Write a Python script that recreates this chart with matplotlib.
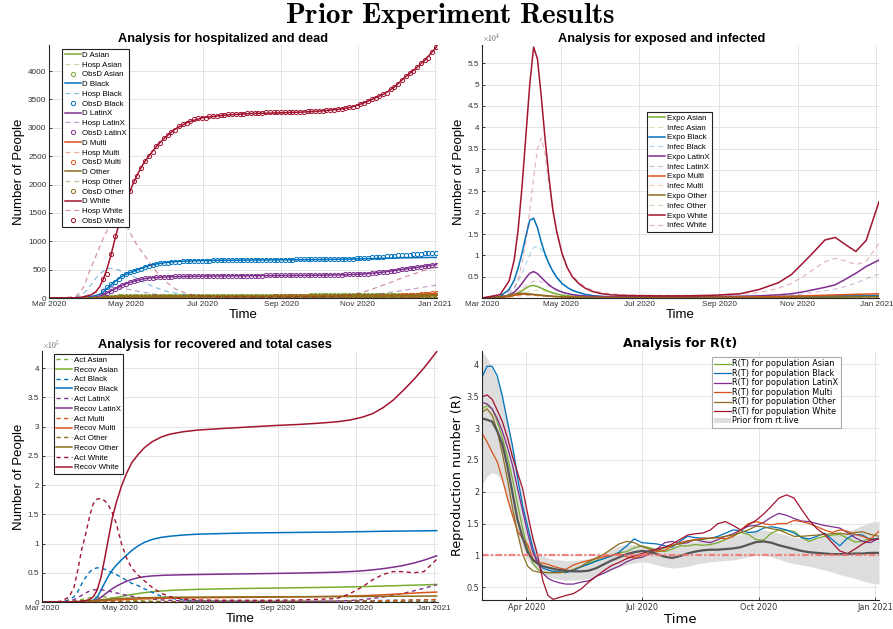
import numpy as np
import matplotlib
matplotlib.use('Agg')
import matplotlib.pyplot as plt
import matplotlib.dates as mdates
from matplotlib.patches import Patch
from matplotlib.ticker import MultipleLocator, FuncFormatter

plt.rcParams['font.family'] = 'Liberation Sans'
plt.rcParams['mathtext.fontset'] = 'cm'

start = np.datetime64('2020-03-01')
groups = ['Asian', 'Black', 'LatinX', 'Multi', 'Other', 'White']
colors = ['#77ac30', '#0072bd', '#7e2f8e', '#d95319', '#8c6d1f', '#a2142f']

# model output, days since 1 Mar 2020
days = [0, 14, 21, 25, 28, 31, 34, 37, 40, 43, 46, 49, 52, 55, 58, 62, 66, 70, 75, 80,
        86, 93, 100, 110, 122, 140, 160, 180, 200, 215, 230, 240, 250, 258, 266, 274, 282, 290, 298, 308]

# deaths (model)
d_asian = [0, 0, 0, 0, 0, 1, 1, 2, 5, 9, 14, 19, 23, 27, 30, 33, 35, 37, 38, 39,
           40, 40, 41, 41, 42, 42, 43, 43, 44, 44, 45, 45, 46, 47, 48, 49, 50, 52, 54, 56]
d_black = [0, 0, 2, 5, 10, 18, 30, 45, 65, 110, 170, 230, 290, 340, 385, 430, 465, 500, 540, 575,
           605, 628, 642, 653, 660, 666, 670, 672, 675, 678, 683, 687, 692, 696, 700, 704, 708, 711, 714, 716]
d_latinx = [0, 0, 1, 2, 4, 6, 10, 20, 35, 60, 90, 125, 160, 195, 225, 260, 290, 315, 340, 355,
            365, 372, 377, 382, 386, 390, 393, 396, 399, 402, 408, 414, 425, 440, 460, 485, 510, 535, 560, 590]
d_multi = [0, 0, 0, 0, 0, 0, 1, 1, 2, 3, 5, 6, 8, 9, 11, 12, 14, 15, 16, 17,
           18, 18, 19, 19, 20, 20, 21, 21, 22, 23, 24, 26, 28, 31, 36, 41, 47, 56, 68, 85]
d_other = [0, 0, 0, 0, 0, 1, 1, 2, 3, 5, 7, 9, 11, 13, 15, 16, 18, 19, 21, 22,
           23, 23, 24, 24, 25, 25, 26, 26, 27, 27, 28, 29, 30, 31, 32, 33, 34, 35, 37, 40]
d_white = [0, 0, 5, 12, 25, 40, 65, 110, 200, 340, 530, 760, 1030, 1280, 1500, 1760, 1990, 2180, 2380, 2530,
           2700, 2850, 2980, 3100, 3180, 3225, 3252, 3262, 3276, 3295, 3327, 3365, 3440, 3520, 3600, 3720, 3885, 4030, 4190, 4440]

# hospitalized (model)
h_asian = [0, 0, 2, 4, 8, 12, 18, 24, 30, 35, 40, 43, 45, 44, 42, 38, 35, 31, 26, 21,
           17, 13, 10, 7, 6, 5, 5, 5, 5, 5, 5, 6, 6, 7, 8, 9, 10, 10, 11, 12]
h_black = [0, 2, 20, 50, 100, 170, 260, 350, 420, 475, 515, 525, 515, 495, 465, 430, 390, 340, 280, 225,
           170, 120, 85, 50, 25, 15, 12, 12, 12, 13, 14, 16, 20, 24, 28, 32, 36, 40, 44, 48]
h_latinx = [0, 1, 8, 20, 35, 55, 80, 105, 130, 155, 172, 182, 185, 180, 170, 155, 140, 122, 100, 80,
            60, 42, 30, 20, 12, 9, 8, 8, 9, 10, 14, 22, 40, 60, 85, 110, 140, 165, 195, 230]
h_multi = [0, 0, 1, 2, 5, 7, 10, 14, 17, 20, 22, 23, 24, 23, 22, 20, 18, 16, 13, 11,
           9, 7, 6, 5, 4, 4, 4, 4, 4, 5, 5, 6, 8, 10, 12, 15, 20, 25, 32, 40]
h_other = [0, 0, 2, 3, 6, 9, 13, 17, 21, 24, 27, 28, 29, 28, 27, 25, 22, 19, 16, 13,
           11, 9, 7, 6, 5, 4, 4, 4, 4, 4, 5, 5, 6, 6, 7, 8, 9, 10, 11, 13]
h_white = [0, 10, 30, 110, 230, 420, 580, 740, 900, 1060, 1200, 1320, 1420, 1440, 1380, 1250, 1070, 920, 770, 610,
           440, 280, 160, 70, 35, 22, 20, 20, 22, 25, 35, 55, 110, 170, 235, 300, 370, 430, 490, 550]

# observed deaths, every 3 days from day 43
obs_days = np.arange(43, 308, 3)
o_asian = [10, 15, 20, 24, 28, 30, 32, 34, 35, 36, 37, 38, 39, 39, 40, 40, 40, 41, 41, 41,
           41, 41, 41, 42, 42, 42, 42, 42, 42, 42, 42, 42, 43, 43, 43, 43, 43, 43, 43, 43,
           43, 43, 43, 44, 44, 44, 44, 44, 44, 44, 44, 44, 44, 44, 44, 45, 45, 45, 45, 45,
           45, 45, 45, 45, 46, 46, 46, 46, 46, 47, 47, 47, 48, 48, 48, 49, 49, 49, 50, 50,
           51, 51, 52, 53, 54, 55, 55, 56, 57]
o_black = [120, 190, 240, 290, 330, 380, 420, 450, 470, 500, 520, 540, 560, 580, 595, 610, 615, 625, 630, 640,
           640, 645, 650, 650, 655, 655, 660, 660, 660, 665, 665, 665, 665, 670, 670, 670, 670, 670, 670, 670,
           670, 670, 675, 675, 675, 675, 675, 675, 675, 675, 675, 680, 680, 680, 680, 680, 685, 685, 685, 685,
           685, 690, 690, 690, 690, 695, 695, 700, 700, 705, 710, 715, 720, 725, 730, 735, 740, 745, 750, 755,
           760, 765, 770, 775, 780, 785, 790, 795, 800]
o_latinx = [50, 90, 130, 160, 200, 230, 250, 280, 300, 320, 335, 345, 355, 360, 365, 370, 372, 375, 378, 380,
            380, 382, 383, 384, 385, 386, 387, 388, 389, 390, 390, 391, 391, 392, 392, 393, 393, 394, 394, 395,
            395, 396, 396, 397, 397, 398, 398, 399, 399, 400, 400, 401, 402, 403, 404, 405, 406, 407, 408, 409,
            410, 411, 412, 413, 415, 417, 419, 421, 424, 428, 432, 437, 443, 450, 458, 466, 475, 484, 493, 503,
            513, 523, 533, 543, 553, 563, 573, 583, 590]
o_multi = [3, 5, 6, 8, 9, 11, 12, 13, 14, 15, 16, 16, 17, 17, 18, 18, 18, 19, 19, 19,
           19, 19, 20, 20, 20, 20, 20, 20, 20, 20, 20, 20, 21, 21, 21, 21, 21, 21, 21, 21,
           21, 21, 21, 22, 22, 22, 22, 22, 22, 22, 22, 22, 22, 23, 23, 23, 23, 23, 24, 24,
           24, 24, 25, 25, 26, 26, 27, 27, 28, 29, 30, 31, 32, 34, 36, 38, 40, 42, 44, 46,
           48, 52, 56, 61, 66, 71, 77, 83, 90]
o_other = [4, 6, 8, 10, 12, 14, 15, 16, 17, 18, 19, 20, 21, 21, 22, 22, 23, 23, 23, 24,
           24, 24, 24, 24, 25, 25, 25, 25, 25, 25, 25, 25, 25, 26, 26, 26, 26, 26, 26, 26,
           26, 26, 26, 26, 26, 27, 27, 27, 27, 27, 27, 27, 27, 27, 27, 27, 28, 28, 28, 28,
           28, 28, 28, 29, 29, 29, 29, 30, 30, 30, 30, 31, 31, 31, 32, 32, 32, 33, 33, 34,
           34, 35, 35, 36, 36, 37, 38, 39, 40]
o_white = [330, 430, 770, 1100, 1330, 1520, 1720, 1880, 2060, 2150, 2300, 2420, 2500, 2580, 2680, 2740, 2820, 2870, 2930, 2960,
           3030, 3070, 3090, 3120, 3150, 3170, 3180, 3180, 3200, 3210, 3210, 3220, 3230, 3240, 3240, 3250, 3250, 3250, 3260, 3260,
           3260, 3260, 3260, 3270, 3270, 3270, 3270, 3270, 3270, 3270, 3270, 3280, 3280, 3280, 3290, 3290, 3290, 3300, 3300, 3310,
           3310, 3320, 3330, 3330, 3350, 3360, 3370, 3390, 3420, 3440, 3470, 3500, 3530, 3560, 3600, 3620, 3680, 3720, 3780, 3850,
           3920, 3970, 4010, 4080, 4150, 4190, 4230, 4330, 4420]

# exposed (model)
e_asian = [0, 80, 350, 700, 1150, 1700, 2300, 2800, 2950, 2700, 2300, 1900, 1500, 1200, 950, 700, 520, 400, 300, 240,
           200, 170, 150, 140, 130, 130, 130, 140, 150, 170, 190, 210, 230, 250, 270, 290, 310, 330, 360, 400]
e_black = [0, 400, 2000, 4200, 7000, 10500, 14500, 18200, 18700, 16500, 13000, 10200, 8000, 6200, 4800, 3400, 2500, 1800, 1300, 850,
           550, 350, 250, 180, 150, 150, 160, 180, 220, 280, 350, 400, 450, 480, 500, 510, 510, 500, 510, 560]
e_latinx = [0, 150, 700, 1400, 2300, 3400, 4700, 5800, 6200, 5700, 4800, 3900, 3100, 2400, 1900, 1400, 1050, 800, 600, 480,
            400, 350, 320, 300, 300, 300, 320, 360, 420, 520, 750, 1000, 1500, 2000, 2500, 3100, 4400, 5800, 7400, 8900]
e_multi = [0, 150, 400, 600, 780, 880, 900, 860, 780, 690, 600, 520, 450, 390, 340, 290, 250, 220, 190, 170,
           150, 140, 130, 130, 130, 140, 160, 190, 230, 280, 350, 420, 500, 580, 650, 720, 800, 870, 930, 1000]
e_other = [0, 250, 650, 950, 1080, 1100, 1050, 950, 850, 750, 650, 560, 480, 410, 350, 290, 240, 200, 160, 130,
           110, 90, 80, 70, 60, 60, 60, 70, 80, 90, 110, 130, 150, 170, 190, 210, 230, 250, 270, 300]
e_white = [0, 800, 4000, 9000, 16000, 26000, 38000, 50000, 58800, 56000, 47000, 37000, 28000, 20500, 15500, 10500, 7200, 5000, 3400, 2300,
           1500, 1000, 750, 600, 550, 500, 520, 650, 1000, 2000, 3600, 5500, 8500, 11000, 13600, 14200, 12500, 10900, 13500, 22600]

# infected (model)
i_asian = [0, 50, 200, 400, 650, 950, 1300, 1600, 1800, 1900, 1800, 1600, 1350, 1100, 900, 700, 520, 400, 300, 230,
           180, 150, 130, 110, 100, 100, 100, 105, 110, 120, 135, 150, 165, 180, 195, 210, 225, 240, 260, 290]
i_black = [0, 200, 1000, 2200, 3800, 5800, 8000, 10200, 11800, 12200, 11300, 9800, 8000, 6400, 5000, 3600, 2600, 1900, 1300, 900,
           600, 400, 280, 200, 170, 160, 160, 170, 200, 240, 290, 330, 370, 400, 420, 430, 430, 430, 440, 480]
i_latinx = [0, 100, 400, 900, 1500, 2200, 2900, 3500, 3900, 4000, 3800, 3300, 2800, 2300, 1800, 1400, 1050, 800, 600, 450,
            350, 300, 260, 240, 230, 230, 240, 270, 310, 380, 520, 700, 1000, 1350, 1700, 2100, 2700, 3500, 4500, 5600]
i_multi = [0, 60, 200, 320, 430, 520, 580, 600, 590, 550, 500, 440, 390, 340, 300, 260, 220, 190, 165, 145,
           130, 120, 110, 105, 105, 110, 120, 140, 170, 210, 260, 310, 360, 410, 460, 510, 560, 610, 660, 710]
i_other = [0, 100, 350, 550, 680, 730, 720, 670, 600, 530, 470, 410, 360, 310, 270, 230, 190, 160, 130, 110,
           90, 75, 65, 58, 52, 50, 50, 55, 62, 70, 85, 100, 115, 130, 145, 160, 175, 190, 205, 225]
i_white = [0, 300, 1500, 2400, 4500, 8000, 13400, 20500, 28000, 35000, 37500, 33500, 26500, 20500, 15400, 10200, 7000, 5200, 3700, 2600,
           1800, 1250, 950, 750, 650, 600, 600, 620, 750, 1300, 2300, 3400, 5200, 6900, 8500, 9300, 8700, 7800, 8600, 12800]

# active cases (model)
a_asian = [0, 100, 600, 1500, 2800, 4200, 5600, 7000, 8000, 8700, 8900, 8600, 8000, 7200, 6300, 5200, 4200, 3300, 2500, 1800,
           1300, 900, 650, 450, 350, 300, 300, 300, 320, 350, 400, 450, 500, 550, 600, 650, 700, 750, 800, 900]
a_black = [0, 500, 3500, 9000, 18000, 31000, 42000, 51000, 56500, 58500, 58000, 56000, 53000, 50000, 47000, 42000, 37000, 32000, 28000, 22500,
           16500, 10000, 6500, 3500, 2000, 1500, 1300, 1200, 1200, 1300, 1500, 1700, 2000, 2300, 2600, 2900, 3100, 3300, 3600, 4200]
a_latinx = [0, 200, 1500, 4000, 7500, 11500, 15500, 18500, 20500, 21500, 21000, 20000, 18500, 17000, 15500, 13500, 11500, 9800, 8000, 6500,
            5000, 3700, 2800, 2000, 1500, 1200, 1100, 1100, 1200, 1400, 1800, 2500, 4000, 6000, 8500, 11500, 15000, 19000, 23500, 29500]
a_multi = [0, 200, 500, 900, 1300, 1600, 1800, 1900, 1900, 1850, 1750, 1650, 1550, 1450, 1350, 1250, 1150, 1050, 950, 850,
           800, 750, 720, 700, 700, 720, 750, 800, 850, 950, 1100, 1300, 1600, 1900, 2300, 2700, 3100, 3500, 3800, 4200]
a_other = [0, 400, 1000, 1600, 2000, 2300, 2400, 2350, 2200, 2000, 1800, 1600, 1400, 1250, 1100, 950, 800, 700, 600, 500,
           420, 350, 300, 260, 230, 210, 200, 200, 210, 220, 240, 260, 290, 320, 350, 380, 410, 440, 470, 500]
a_white = [0, 1000, 8000, 25000, 55000, 90000, 115000, 145000, 168000, 176000, 177000, 173000, 165000, 152000, 134000, 100000, 75000, 58000, 46000, 36000,
           25000, 15000, 9000, 5000, 3500, 3000, 3000, 3000, 3500, 4500, 6000, 14000, 26000, 38000, 47000, 52000, 52000, 50000, 52000, 73000]

# recovered (model)
r_asian = [0, 0, 0, 0, 50, 100, 200, 400, 800, 1500, 2500, 3700, 5000, 6400, 7800, 9500, 11200, 12800, 14500, 16000,
           17500, 18800, 19800, 20800, 21700, 22500, 23200, 23800, 24400, 24900, 25400, 25800, 26300, 26800, 27300, 27800, 28300, 28800, 29300, 30000]
r_black = [0, 0, 0, 100, 200, 400, 800, 1500, 3000, 8000, 20000, 33000, 45000, 55000, 63000, 72000, 80000, 88000, 96000, 102000,
           107000, 110500, 112500, 114500, 116000, 117000, 118000, 118500, 119000, 119300, 119600, 120000, 120300, 120600, 120900, 121100, 121300, 121500, 121700, 122000]
r_latinx = [0, 0, 0, 50, 100, 250, 500, 1000, 2000, 4000, 8000, 13000, 18000, 23000, 27000, 31500, 35500, 38500, 41500, 43300,
            44600, 45500, 46000, 46500, 47000, 47600, 48200, 48800, 49500, 50200, 51000, 52000, 53300, 55000, 57000, 59500, 62500, 66500, 71500, 79000]
r_multi = [0, 0, 50, 100, 200, 350, 550, 800, 1100, 1500, 1900, 2300, 2700, 3100, 3500, 3900, 4300, 4700, 5100, 5500,
           5900, 6300, 6600, 6900, 7200, 7600, 8000, 8400, 8800, 9200, 9700, 10200, 10800, 11500, 12300, 13200, 14200, 15200, 16200, 17000]
r_other = [0, 0, 100, 300, 600, 1000, 1500, 2000, 2600, 3200, 3800, 4300, 4800, 5200, 5600, 6000, 6400, 6700, 7000, 7300,
           7600, 7900, 8100, 8300, 8500, 8700, 8900, 9000, 9100, 9200, 9300, 9400, 9500, 9600, 9700, 9800, 9900, 10000, 10100, 10200]
r_white = [0, 0, 100, 300, 700, 1400, 2500, 4000, 9000, 20000, 42000, 75000, 110000, 145000, 170000, 198000, 220000, 238000, 252000, 264000,
           274000, 282000, 287000, 291000, 294000, 296500, 299000, 301500, 303500, 305500, 308000, 311000, 316000, 322000, 332000, 345000, 362000, 380000, 400000, 428000]

# R(t) estimates
rt_days = [-4, 0, 4, 8, 12, 16, 20, 24, 28, 32, 36, 40, 44, 48, 52, 57, 62, 68, 74, 80,
           86, 92, 98, 104, 110, 116, 122, 128, 134, 140, 146, 152, 158, 164, 170, 176, 182, 188, 194, 200,
           206, 212, 218, 224, 230, 236, 242, 248, 254, 260, 266, 272, 278, 284, 290, 296, 302, 309]
rt_asian = [3.30, 3.35, 3.30, 3.10, 2.85, 2.55, 2.20, 1.80, 1.42, 1.10, 0.88, 0.78, 0.74, 0.73, 0.73, 0.73, 0.74, 0.77, 0.82, 0.88,
            0.92, 0.95, 1.00, 1.04, 1.06, 1.12, 1.15, 1.12, 1.08, 1.06, 1.10, 1.15, 1.15, 1.17, 1.16, 1.17, 1.20, 1.25, 1.30, 1.36,
            1.33, 1.25, 1.24, 1.35, 1.40, 1.39, 1.38, 1.28, 1.22, 1.27, 1.30, 1.32, 1.33, 1.27, 1.21, 1.22, 1.27, 1.25]
rt_black = [3.80, 3.97, 3.97, 3.82, 3.50, 3.10, 2.72, 2.22, 1.78, 1.45, 1.12, 0.88, 0.80, 0.77, 0.75, 0.74, 0.73, 0.76, 0.82, 0.86,
            0.91, 0.95, 0.99, 1.05, 1.15, 1.26, 1.20, 1.19, 1.18, 1.15, 1.13, 1.22, 1.30, 1.28, 1.27, 1.27, 1.30, 1.35, 1.40, 1.39,
            1.36, 1.37, 1.43, 1.45, 1.43, 1.40, 1.35, 1.28, 1.26, 1.30, 1.35, 1.25, 1.15, 1.27, 1.33, 1.32, 1.25, 1.27]
rt_latinx = [3.40, 3.38, 3.30, 3.15, 2.95, 2.70, 2.42, 2.05, 1.70, 1.35, 1.05, 0.88, 0.72, 0.64, 0.60, 0.57, 0.55, 0.55, 0.58, 0.60,
             0.67, 0.72, 0.78, 0.83, 0.90, 0.95, 0.97, 1.02, 1.10, 1.20, 1.22, 1.18, 1.20, 1.25, 1.22, 1.20, 1.25, 1.30, 1.34, 1.40,
             1.46, 1.47, 1.52, 1.60, 1.66, 1.63, 1.58, 1.54, 1.53, 1.50, 1.47, 1.45, 1.43, 1.36, 1.28, 1.22, 1.20, 1.27]
rt_multi = [2.92, 2.78, 2.62, 2.47, 2.20, 1.90, 1.63, 1.38, 1.27, 1.17, 0.95, 0.88, 0.88, 0.86, 0.83, 0.80, 0.78, 0.85, 0.89, 0.92,
            0.95, 0.98, 1.00, 1.03, 0.98, 0.96, 1.00, 1.04, 1.06, 1.08, 1.15, 1.20, 1.23, 1.25, 1.27, 1.27, 1.28, 1.26, 1.30, 1.40,
            1.50, 1.53, 1.50, 1.48, 1.50, 1.50, 1.55, 1.53, 1.50, 1.45, 1.40, 1.36, 1.40, 1.38, 1.33, 1.30, 1.25, 1.38]
rt_other = [3.25, 3.30, 3.20, 2.95, 2.60, 2.20, 1.75, 1.35, 1.02, 0.83, 0.76, 0.74, 0.73, 0.73, 0.73, 0.73, 0.74, 0.78, 0.83, 0.90,
            0.96, 1.02, 1.10, 1.18, 1.22, 1.20, 1.14, 1.10, 1.08, 1.12, 1.16, 1.18, 1.22, 1.24, 1.25, 1.27, 1.28, 1.30, 1.32, 1.36,
            1.40, 1.46, 1.45, 1.42, 1.40, 1.35, 1.30, 1.30, 1.31, 1.32, 1.33, 1.34, 1.35, 1.33, 1.36, 1.37, 1.33, 1.30]
rt_white = [3.49, 3.52, 3.45, 3.28, 3.10, 2.85, 2.55, 2.30, 2.05, 1.65, 1.28, 0.98, 0.60, 0.37, 0.31, 0.34, 0.37, 0.40, 0.47, 0.58,
            0.67, 0.76, 0.84, 0.89, 0.95, 0.99, 1.03, 1.07, 1.10, 1.13, 1.18, 1.25, 1.32, 1.34, 1.35, 1.40, 1.50, 1.53, 1.47, 1.40,
            1.48, 1.55, 1.65, 1.77, 1.90, 1.95, 1.90, 1.72, 1.55, 1.42, 1.33, 1.20, 1.07, 1.03, 1.10, 1.18, 1.24, 1.26]
rt_mean = [3.15, 3.13, 3.10, 2.95, 2.75, 2.40, 1.98, 1.56, 1.28, 1.05, 0.93, 0.87, 0.83, 0.81, 0.79, 0.77, 0.76, 0.75, 0.75, 0.76,
           0.80, 0.86, 0.92, 0.97, 1.02, 1.05, 1.07, 1.06, 1.02, 0.98, 0.96, 0.99, 1.03, 1.06, 1.08, 1.09, 1.09, 1.10, 1.11, 1.13,
           1.17, 1.21, 1.22, 1.20, 1.16, 1.13, 1.10, 1.07, 1.05, 1.04, 1.03, 1.02, 1.02, 1.02, 1.03, 1.03, 1.04, 1.04]
rt_low = [2.10, 2.25, 2.30, 2.27, 2.15, 1.83, 1.57, 1.32, 1.10, 0.93, 0.83, 0.76, 0.70, 0.66, 0.64, 0.62, 0.61, 0.61, 0.62, 0.64,
          0.68, 0.72, 0.77, 0.82, 0.86, 0.88, 0.90, 0.88, 0.85, 0.82, 0.80, 0.81, 0.83, 0.86, 0.88, 0.90, 0.91, 0.92, 0.93, 0.95,
          0.98, 1.00, 1.00, 0.98, 0.94, 0.90, 0.87, 0.85, 0.83, 0.80, 0.77, 0.74, 0.70, 0.67, 0.64, 0.60, 0.57, 0.55]
rt_high = [4.20, 4.10, 3.95, 3.78, 3.55, 3.15, 2.75, 2.32, 1.95, 1.60, 1.30, 1.06, 0.99, 0.96, 0.94, 0.93, 0.92, 0.92, 0.93, 0.95,
           0.99, 1.04, 1.10, 1.15, 1.17, 1.17, 1.16, 1.14, 1.12, 1.12, 1.14, 1.17, 1.20, 1.22, 1.24, 1.25, 1.26, 1.28, 1.30, 1.33,
           1.37, 1.40, 1.40, 1.38, 1.35, 1.32, 1.29, 1.27, 1.27, 1.28, 1.30, 1.32, 1.35, 1.38, 1.42, 1.47, 1.52, 1.54]

deaths = dict(zip(groups, [d_asian, d_black, d_latinx, d_multi, d_other, d_white]))
hosp = dict(zip(groups, [h_asian, h_black, h_latinx, h_multi, h_other, h_white]))
obs = dict(zip(groups, [o_asian, o_black, o_latinx, o_multi, o_other, o_white]))
expo = dict(zip(groups, [e_asian, e_black, e_latinx, e_multi, e_other, e_white]))
infec = dict(zip(groups, [i_asian, i_black, i_latinx, i_multi, i_other, i_white]))
active = dict(zip(groups, [a_asian, a_black, a_latinx, a_multi, a_other, a_white]))
recov = dict(zip(groups, [r_asian, r_black, r_latinx, r_multi, r_other, r_white]))
rt = dict(zip(groups, [rt_asian, rt_black, rt_latinx, rt_multi, rt_other, rt_white]))


def to_dates(d):
    return start + np.asarray(d).astype('timedelta64[D]')


def style(ax, size=5.9):
    for s in ('top', 'right'):
        ax.spines[s].set_visible(False)
    for s in ('left', 'bottom'):
        ax.spines[s].set_color('#262626')
        ax.spines[s].set_linewidth(0.8)
    ax.grid(True, color='#e4e4e4', lw=0.7)
    ax.set_axisbelow(True)
    ax.tick_params(direction='in', length=2.5, width=0.6, color='#262626',
                   labelcolor='#333333', labelsize=size, pad=2)


def date_axis(ax, months, lim):
    ax.xaxis.set_major_locator(mdates.MonthLocator(bymonth=months))
    ax.xaxis.set_major_formatter(mdates.DateFormatter('%b %Y'))
    lo, hi = to_dates(lim)
    ax.set_xlim(lo, hi)


def box_legend(ax, anchor, loc='upper left', size=5.7, spacing=0.28, **kw):
    leg = ax.legend(loc=loc, bbox_to_anchor=anchor, fontsize=size, frameon=True,
                    fancybox=False, framealpha=1, edgecolor='#222222', borderpad=0.3,
                    handlelength=2.0, handletextpad=0.2, labelspacing=spacing,
                    borderaxespad=0, **kw)
    leg.get_frame().set_linewidth(0.8)
    return leg


def panel_title(ax, text, xc, size=9.2):
    ax.text(xc, 1.012, text, transform=ax.transAxes, ha='center', va='baseline',
            fontsize=size, fontweight='bold')


x = to_dates(days)
xo = to_dates(obs_days)

fig = plt.figure(figsize=(8.93, 6.29), dpi=100)
fig.text(0.504, 0.974, r'$\mathbf{Prior\ Experiment\ Results}$', ha='center', va='center', fontsize=21)

# hospitalized and dead
ax1 = fig.add_axes([0.0552, 0.5262, 0.4345, 0.4023])
for g, c in zip(groups, colors):
    ax1.plot(x, deaths[g], color=c, lw=1.1, label='D ' + g)
    ax1.plot(x, hosp[g], color=c, lw=0.9, ls=(0, (4, 3)), alpha=0.45, label='Hosp ' + g)
    ax1.plot(xo, obs[g], ls='none', marker='o', ms=3, mfc='none', mec=c, mew=0.7, label='ObsD ' + g)
style(ax1)
date_axis(ax1, [1, 3, 5, 7, 9, 11], [0, 308])
ax1.set_ylim(0, 4460)
ax1.yaxis.set_major_locator(MultipleLocator(500))
panel_title(ax1, 'Analysis for hospitalized and dead', 0.448)
ax1.set_xlabel('Time', fontsize=9.5, labelpad=1)
ax1.set_ylabel('Number of People', fontsize=9.5, labelpad=2)
box_legend(ax1, (0.0335, 0.984))

# exposed and infected
ax2 = fig.add_axes([0.5398, 0.5262, 0.4446, 0.4023])
for g, c in zip(groups, colors):
    ax2.plot(x, expo[g], color=c, lw=1.1, label='Expo ' + g)
    ax2.plot(x, infec[g], color=c, lw=0.9, ls=(0, (4, 3)), alpha=0.3, label='Infec ' + g)
style(ax2)
date_axis(ax2, [1, 3, 5, 7, 9, 11], [0, 308])
ax2.set_ylim(0, 59300)
ax2.yaxis.set_major_locator(MultipleLocator(5000))
ax2.yaxis.set_major_formatter(FuncFormatter(lambda v, p: '' if v == 0 else '%g' % (v / 1e4)))
ax2.text(0.0, 1.002, r'$\times\mathsf{10^{4}}$', transform=ax2.transAxes, fontsize=5.5,
         color='#555555', ha='left', va='bottom')
panel_title(ax2, 'Analysis for exposed and infected', 0.453)
ax2.set_xlabel('Time', fontsize=9.5, labelpad=1)
ax2.set_ylabel('Number of People', fontsize=9.5, labelpad=2)
box_legend(ax2, (0.4156, 0.735))

# recovered and total cases
ax3 = fig.add_axes([0.0470, 0.0429, 0.4435, 0.3990])
for g, c in zip(groups, colors):
    ax3.plot(x, active[g], color=c, lw=1.0, ls=(0, (3, 2.5)), label='Act ' + g)
    ax3.plot(x, recov[g], color=c, lw=1.1, label='Recov ' + g)
style(ax3)
date_axis(ax3, [1, 3, 5, 7, 9, 11], [0, 309])
ax3.set_ylim(0, 4.29e5)
ax3.yaxis.set_major_locator(MultipleLocator(50000))
ax3.yaxis.set_major_formatter(FuncFormatter(lambda v, p: '%g' % (v / 1e5)))
ax3.text(0.0, 1.002, r'$\times\mathsf{10^{5}}$', transform=ax3.transAxes, fontsize=5.5,
         color='#555555', ha='left', va='bottom')
panel_title(ax3, 'Analysis for recovered and total cases', 0.437)
ax3.set_xlabel('Time', fontsize=9.5, labelpad=1)
ax3.set_ylabel('Number of People', fontsize=9.5, labelpad=2)
box_legend(ax3, (0.0303, 0.988))

# R(t)
with plt.rc_context({'font.family': 'DejaVu Sans'}):
    ax4 = fig.add_axes([0.5398, 0.0461, 0.4446, 0.3959])
    xr = to_dates(rt_days)
    ax4.fill_between(xr, rt_low, rt_high, color='#dddddd', lw=0)
    handles = []
    for g, c in zip(groups, colors):
        h, = ax4.plot(xr, rt[g], color=c, lw=0.9, label='R(T) for population ' + g)
        handles.append(h)
    ax4.plot(xr, rt_mean, color='#555555', lw=1.6)
    ax4.axhline(1, color='#f07070', lw=1.6, ls=(0, (3, 1, 1, 1)), alpha=0.85)
    handles.append(Patch(facecolor='#dddddd', edgecolor='none', label='Prior from rt.live'))
    style(ax4, 5.9)
    date_axis(ax4, [1, 4, 7, 10], [-4, 309])
    ax4.set_ylim(0.3, 4.21)
    ax4.yaxis.set_major_locator(MultipleLocator(0.5))
    ax4.yaxis.set_major_formatter(FuncFormatter(lambda v, p: '%g' % v))
    ax4.set_title('Analysis for R(t)', fontsize=9, fontweight='bold', pad=3)
    ax4.set_xlabel('Time', fontsize=9.5, labelpad=1)
    ax4.set_ylabel('Reproduction number (R)', fontsize=9.2, labelpad=2)
    box_legend(ax4, (0.9035, 0.976), loc='upper right', size=5.9, spacing=0.06, handles=handles)
    ax4.get_legend().get_frame().set_edgecolor('#aaaaaa')

fig.savefig('out.png', dpi=100)
